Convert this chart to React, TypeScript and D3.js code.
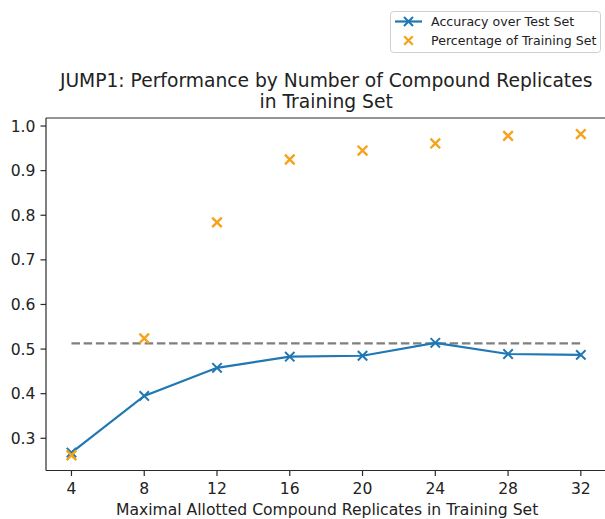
import React from "react";
import * as d3 from "d3";

const replicates = [4, 8, 12, 16, 20, 24, 28, 32];
const accuracy = [0.268, 0.395, 0.458, 0.483, 0.485, 0.514, 0.489, 0.487];
const trainPct = [0.262, 0.524, 0.784, 0.925, 0.945, 0.961, 0.978, 0.982];
const baseline = 0.513;
const yTicks = [0.3, 0.4, 0.5, 0.6, 0.7, 0.8, 0.9, 1.0];
const titleLines = [
  "JUMP1: Performance by Number of Compound Replicates",
  "in Training Set",
];
const xLabel = "Maximal Allotted Compound Replicates in Training Set";
const legendLabels = ["Accuracy over Test Set", "Percentage of Training Set"];

const W = 605;
const H = 519;
const L = 46;
const R = 606.3;
const T = 118;
const B = 470.5;
const BLUE = "#1f77b4";
const ORANGE = "#f5a21c";
const FONT = "DejaVu Sans, sans-serif";

function XMark({ x, y, r, color, w }: { x: number; y: number; r: number; color: string; w: number }) {
  return (
    <path
      d={`M${x - r},${y - r}L${x + r},${y + r}M${x - r},${y + r}L${x + r},${y - r}`}
      stroke={color}
      strokeWidth={w}
      fill="none"
    />
  );
}

export default function App() {
  const x = d3.scaleLinear().domain([2.6, 33.4]).range([L, R]);
  const y = d3.scaleLinear().domain([0.2278, 1.018]).range([B, T]);
  const line = d3
    .line<number>()
    .x((_, i) => x(replicates[i]))
    .y((d) => y(d));
  const cx = (L + R) / 2;

  return (
    <svg
      width={W}
      height={H}
      style={{ position: "absolute", left: 0, top: 0, background: "#fff" }}
      fontFamily={FONT}
    >
      <rect width={W} height={H} fill="#fff" />
      {/* title */}
      <text x={cx} y={87.3} textAnchor="middle" fontSize={18.7} fill="#222">
        {titleLines[0]}
      </text>
      <text x={cx} y={107.6} textAnchor="middle" fontSize={18.7} fill="#222">
        {titleLines[1]}
      </text>

      {/* baseline dashed */}
      <line
        x1={x(replicates[0])}
        x2={x(replicates[replicates.length - 1])}
        y1={y(baseline)}
        y2={y(baseline)}
        stroke="#7f7f7f"
        strokeWidth={2.2}
        strokeDasharray="8.5,3.7"
      />

      {/* accuracy line */}
      <path d={line(accuracy) || ""} fill="none" stroke={BLUE} strokeWidth={2.2} />
      {accuracy.map((v, i) => (
        <XMark key={"a" + i} x={x(replicates[i])} y={y(v)} r={4.7} color={BLUE} w={2} />
      ))}
      {/* training pct scatter */}
      {trainPct.map((v, i) => (
        <XMark key={"t" + i} x={x(replicates[i])} y={y(v)} r={4.8} color={ORANGE} w={2.4} />
      ))}

      {/* spines */}
      <line x1={L} x2={L} y1={T} y2={B} stroke="#2a2a2a" strokeWidth={1.2} />
      <line x1={L} x2={R} y1={B} y2={B} stroke="#2a2a2a" strokeWidth={1.2} />
      <line x1={L} x2={R} y1={T} y2={T} stroke="#2a2a2a" strokeWidth={1.2} />
      <line x1={R} x2={R} y1={T} y2={B} stroke="#2a2a2a" strokeWidth={1.2} />

      {/* y ticks */}
      {yTicks.map((t) => (
        <g key={"y" + t}>
          <line x1={L - 5.5} x2={L} y1={y(t)} y2={y(t)} stroke="#2a2a2a" strokeWidth={1.2} />
          <text x={L - 10.5} y={y(t)} dy="0.36em" textAnchor="end" fontSize={15.6} fill="#222">
            {t.toFixed(1)}
          </text>
        </g>
      ))}
      {/* x ticks */}
      {replicates.map((t) => (
        <g key={"x" + t}>
          <line x1={x(t)} x2={x(t)} y1={B} y2={B + 5.5} stroke="#2a2a2a" strokeWidth={1.2} />
          <text x={x(t)} y={494} textAnchor="middle" fontSize={15.6} fill="#222">
            {t}
          </text>
        </g>
      ))}
      <text x={cx + 1} y={514.8} textAnchor="middle" fontSize={15.6} fill="#222">
        {xLabel}
      </text>

      {/* legend */}
      <rect x={390.5} y={11.5} width={210} height={41} rx={3} fill="#fff" stroke="#d0d0d0" strokeWidth={1} />
      <line x1={395} x2={422} y1={21.5} y2={21.5} stroke={BLUE} strokeWidth={2.2} />
      <XMark x={408.5} y={21.5} r={4.5} color={BLUE} w={2} />
      <XMark x={408.5} y={40.5} r={4.3} color={ORANGE} w={2.3} />
      <text x={431} y={21.5} dy="0.36em" fontSize={12.6} fill="#222">
        {legendLabels[0]}
      </text>
      <text x={431} y={40.5} dy="0.36em" fontSize={12.6} fill="#222">
        {legendLabels[1]}
      </text>
    </svg>
  );
}
